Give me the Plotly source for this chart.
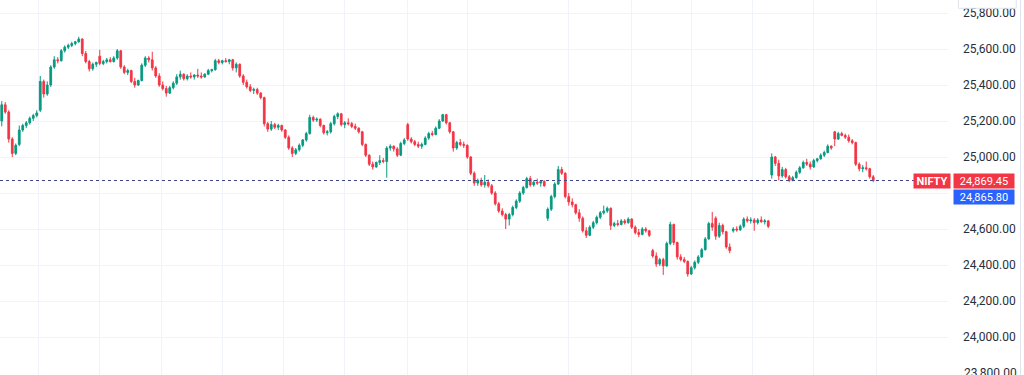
import plotly.graph_objects as go

# ---- data (250 intraday candles) ----
O = [25200,25290,25250,25100,25020,25070,25150,25175,25190,25215,
     25230,25260,25420,25350,25400,25500,25540,25535,25590,25610,
     25620,25630,25640,25655,25575,25530,25490,25515,25560,25520,
     25530,25540,25530,25550,25590,25500,25470,25480,25420,25400,
     25425,25510,25550,25540,25495,25450,25400,25380,25355,25385,
     25410,25445,25460,25435,25450,25445,25455,25450,25445,25460,
     25480,25485,25535,25525,25535,25530,25540,25495,25515,25450,
     25415,25390,25370,25375,25355,25330,25185,25155,25180,25165,
     25175,25150,25110,25050,25020,25040,25065,25095,25130,25220,
     25205,25210,25175,25135,25140,25185,25225,25240,25180,25190,
     25185,25170,25160,25140,25070,25010,24960,24945,24970,24980,
     24975,25050,25060,25045,25010,25075,25180,25100,25085,25070,
     25060,25070,25105,25130,25125,25160,25200,25235,25190,25140,
     25050,25080,25070,25065,25000,24910,24855,24870,24845,24860,
     24840,24800,24740,24700,24680,24655,24680,24720,24755,24800,
     24830,24880,24845,24860,24855,24865,24660,24710,24780,24850,
     24930,24910,24780,24750,24735,24690,24660,24590,24565,24610,
     24635,24665,24690,24700,24715,24620,24630,24625,24645,24635,
     24655,24610,24580,24570,24600,24590,24480,24450,24405,24430,
     24395,24520,24625,24525,24445,24430,24420,24350,24385,24415,
     24445,24485,24545,24630,24660,24560,24620,24585,24500,24590,
     24600,24595,24615,24655,24645,24650,24635,24650,24640,24645,
     24900,25000,24965,24895,24930,24890,24870,24885,24915,24940,
     24970,24960,24945,24980,24990,25010,25025,25060,25140,25100,
     25130,25120,25110,25090,25080,24960,24935,24940,24935,24890]
H = [25310,25305,25260,25110,25075,25175,25185,25200,25225,25240,
     25260,25450,25430,25420,25510,25560,25555,25600,25620,25630,
     25640,25645,25668,25660,25590,25540,25525,25530,25595,25540,
     25550,25555,25560,25600,25595,25510,25490,25485,25440,25430,
     25520,25560,25560,25585,25505,25465,25420,25395,25395,25420,
     25460,25480,25465,25460,25470,25460,25490,25470,25465,25490,
     25490,25545,25545,25540,25550,25545,25545,25525,25520,25460,
     25430,25405,25385,25385,25360,25335,25195,25200,25190,25185,
     25180,25155,25120,25060,25050,25075,25100,25140,25235,25230,
     25220,25215,25180,25150,25195,25235,25248,25245,25200,25215,
     25195,25185,25165,25145,25075,25015,24975,24975,25010,24995,
     25060,25070,25065,25055,25085,25105,25190,25110,25095,25085,
     25080,25115,25140,25145,25170,25210,25240,25240,25195,25145,
     25090,25100,25085,25070,25005,24920,24880,24885,24900,24875,
     24850,24810,24750,24715,24690,24690,24730,24765,24810,24840,
     24890,24895,24870,24880,24870,24870,24720,24790,24860,24950,
     24945,24915,24800,24770,24740,24710,24670,24610,24620,24645,
     24675,24700,24730,24725,24720,24640,24650,24655,24655,24665,
     24660,24620,24600,24610,24610,24595,24490,24470,24440,24440,
     24530,24640,24630,24530,24460,24445,24425,24395,24425,24455,
     24495,24555,24640,24695,24670,24635,24630,24590,24520,24610,
     24615,24625,24665,24670,24665,24660,24660,24670,24655,24650,
     25020,25005,24985,24945,24940,24900,24895,24925,24950,24980,
     24990,24975,24990,24995,25020,25035,25070,25065,25145,25140,
     25140,25130,25125,25100,25085,24970,24955,24975,24940,24900]
L = [25170,25240,25080,25000,25010,25060,25140,25160,25180,25200,
     25220,25250,25330,25340,25390,25490,25520,25530,25580,25600,
     25610,25620,25635,25560,25520,25475,25480,25500,25510,25510,
     25520,25525,25525,25540,25490,25460,25455,25410,25385,25395,
     25420,25500,25525,25480,25440,25390,25370,25335,25350,25375,
     25400,25430,25425,25425,25435,25430,25440,25435,25440,25455,
     25470,25480,25515,25515,25525,25515,25480,25470,25440,25400,
     25380,25360,25350,25345,25320,25170,25140,25145,25155,25150,
     25140,25100,25040,25000,25010,25030,25055,25085,25125,25195,
     25195,25165,25125,25120,25130,25175,25210,25170,25160,25175,
     25160,25150,25130,25060,25000,24950,24930,24940,24955,24965,
     24885,25035,25030,25000,25005,25065,25090,25075,25060,25050,
     25045,25065,25095,25115,25120,25155,25195,25180,25130,25030,
     25040,25060,25050,24990,24900,24840,24840,24835,24830,24830,
     24790,24730,24690,24670,24600,24620,24670,24710,24745,24790,
     24825,24835,24835,24845,24835,24835,24645,24700,24770,24845,
     24900,24770,24730,24720,24680,24640,24580,24550,24560,24600,
     24625,24655,24680,24690,24595,24610,24615,24620,24625,24630,
     24600,24570,24555,24565,24580,24555,24440,24390,24395,24345,
     24390,24510,24510,24430,24420,24410,24335,24345,24375,24405,
     24440,24480,24540,24590,24540,24550,24570,24490,24465,24580,
     24585,24590,24605,24635,24630,24590,24625,24635,24625,24605,
     24880,24950,24870,24885,24880,24860,24865,24880,24905,24935,
     24950,24930,24940,24970,24985,25000,25020,25040,25060,25095,
     25115,25100,25080,25070,24950,24920,24915,24925,24880,24860]
C = [25290,25250,25100,25020,25065,25150,25175,25190,25215,25230,
     25245,25420,25350,25400,25500,25540,25535,25590,25610,25620,
     25630,25640,25655,25575,25530,25490,25515,25525,25520,25530,
     25540,25530,25550,25590,25500,25470,25480,25420,25400,25425,
     25510,25550,25540,25495,25450,25400,25380,25355,25385,25410,
     25445,25460,25435,25450,25445,25455,25450,25445,25460,25480,
     25485,25535,25525,25535,25530,25540,25495,25515,25450,25415,
     25390,25370,25375,25355,25330,25185,25155,25180,25165,25175,
     25150,25110,25050,25020,25040,25065,25095,25130,25220,25205,
     25210,25175,25135,25140,25185,25225,25240,25180,25190,25185,
     25170,25160,25140,25070,25010,24960,24945,24970,24980,24975,
     25050,25060,25045,25010,25075,25095,25100,25085,25070,25060,
     25070,25105,25130,25125,25160,25200,25235,25190,25140,25050,
     25080,25070,25065,25000,24910,24855,24870,24845,24860,24840,
     24800,24740,24700,24680,24655,24680,24720,24755,24800,24830,
     24880,24845,24860,24855,24865,24840,24710,24780,24850,24930,
     24910,24780,24750,24735,24690,24660,24590,24565,24610,24635,
     24665,24690,24700,24715,24620,24630,24625,24645,24635,24655,
     24610,24580,24570,24600,24590,24565,24450,24405,24430,24395,
     24520,24625,24525,24445,24430,24420,24350,24385,24415,24445,
     24485,24545,24630,24610,24560,24620,24585,24500,24480,24600,
     24595,24615,24655,24645,24650,24635,24650,24640,24645,24615,
     25000,24965,24895,24930,24890,24870,24885,24915,24940,24970,
     24960,24945,24980,24990,25010,25025,25060,25050,25100,25130,
     25120,25110,25090,25080,24960,24935,24940,24935,24890,24869.45]

symbol = "NIFTY"
last_price = 24869.45
second_price = 24865.80
price_ticks = [23800, 24000, 24200, 24400, 24600, 24800, 25000, 25200, 25400, 25600, 25800]
hidden_tick = 24800   # covered by the price tags in the reference
time_grid = [10.36, 28.07, 45.5, 62.93, 80.36, 98.07, 115.79, 133.2,
             162.07, 179.79, 197.21, 214.64, 232.07, 249.79]

idx = list(range(len(C)))

UP = "#089981"
DN = "#F23645"
GRID = "#F0F3FA"
TXT = "#2A2E39"

fig = go.Figure()
fig.add_trace(go.Candlestick(
    x=idx, open=O, high=H, low=L, close=C,
    increasing=dict(line=dict(color=UP, width=1), fillcolor=UP),
    decreasing=dict(line=dict(color=DN, width=1), fillcolor=DN),
    whiskerwidth=0, hoverinfo="skip",
))

fig.add_hline(y=last_price, line=dict(color="#3F4585", width=1, dash="dot"))

# right-side price tags
tag_font = dict(color="white", size=11, family="Roboto")
fig.add_annotation(xref="paper", yref="y", x=1.0053, y=last_price, xanchor="left", yanchor="middle",
                   text=f"{last_price:,.2f}", showarrow=False, bgcolor=DN, width=60, height=14,
                   font=tag_font, borderpad=0)
fig.add_annotation(xref="paper", yref="y", x=1.0053, y=last_price, yshift=-16, xanchor="left",
                   yanchor="middle", text=f"{second_price:,.2f}", showarrow=False, bgcolor="#2962FF",
                   width=60, height=14, font=tag_font, borderpad=0)
fig.add_annotation(xref="paper", yref="y", x=1.0035, y=last_price, xanchor="right", yanchor="middle",
                   text=f"<b>{symbol}</b>", showarrow=False, bgcolor=DN, width=36, height=14,
                   font=tag_font, borderpad=0)

# bottom label that sits half outside the window (as in the reference)
fig.add_annotation(xref="paper", yref="y", x=1.0148, y=price_ticks[0], xanchor="left", yanchor="middle",
                   text=f"{price_ticks[0]:,.2f}", showarrow=False,
                   font=dict(color=TXT, size=12, family="Roboto"))

# frame pieces on the right
fig.add_shape(type="line", xref="paper", yref="paper", x0=1.0765, x1=1.0765, y0=0, y1=1,
              line=dict(color="#E0E3EB", width=1))
fig.add_shape(type="rect", xref="paper", yref="paper", x0=1.011, x1=1.072, y0=0.978, y1=1.01,
              line=dict(color="#E0E3EB", width=1), fillcolor="white")

axis_ticks = price_ticks[1:]
axis_text = ["" if t == hidden_tick else f"{t:,.2f}" for t in axis_ticks]

fig.update_layout(
    width=1024, height=375,
    margin=dict(l=0, r=76, t=0, b=0),
    paper_bgcolor="white", plot_bgcolor="white",
    showlegend=False,
    font=dict(family="Roboto", color=TXT, size=12),
    xaxis=dict(range=[-0.5, 270.36], rangeslider=dict(visible=False),
               tickvals=time_grid, showticklabels=False, showgrid=True,
               gridcolor=GRID, gridwidth=1, zeroline=False, showline=False, ticks=""),
    yaxis=dict(side="right", range=[23788.9, 25872.2], tickvals=axis_ticks, ticktext=axis_text,
               showgrid=True, gridcolor=GRID, gridwidth=1,
               zeroline=False, showline=False, ticks="", ticklabelstandoff=14,
               tickfont=dict(size=12, color=TXT, family="Roboto")),
)

fig.write_html("out.html")
